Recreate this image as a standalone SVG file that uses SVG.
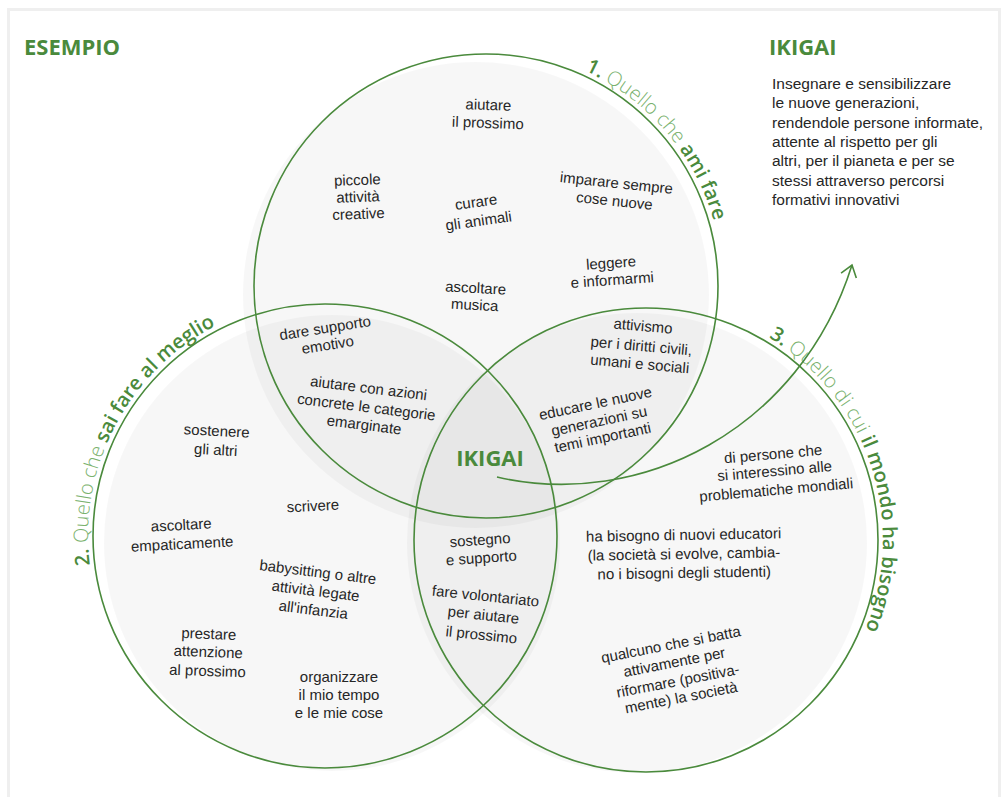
<svg xmlns="http://www.w3.org/2000/svg" width="1002" height="797" viewBox="0 0 1002 797">
<style>
.title{font-family:"Open Sans","Liberation Sans",sans-serif;font-weight:700;font-size:22px;fill:#4a8a3c}
.hw{font-family:"Liberation Sans Narrow","Liberation Sans",sans-serif;font-size:15px;fill:#262626;text-anchor:middle}
.hwl{font-family:"Liberation Sans Narrow","Liberation Sans",sans-serif;font-size:15.5px;fill:#262626}
.lbl{font-family:"Open Sans","Liberation Sans",sans-serif;font-size:20px}
.b{font-weight:600;fill:#4a8a3c}
.l{font-weight:300;fill:#7ab26e}
.ring{fill:none;stroke:#4a8a3c;stroke-width:1.6}
.shade{fill:#000;fill-opacity:0.032}
</style>
<defs>
<marker id="arrow" markerUnits="userSpaceOnUse" markerWidth="30" markerHeight="30" viewBox="-15 -15 30 30" refX="0" refY="0" orient="auto">
<path d="M -11 -8 L 0 0 L -11 8" fill="none" stroke="#4a8a3c" stroke-width="1.6"/>
</marker>
<path id="p1" d="M 486 49 A 237 237 0 0 1 723 286"/>
<path id="p2" d="M 119.8 654.5 A 237 237 0 0 1 325 299"/>
<path id="p3" d="M 646 303 A 237 237 0 0 1 646 777"/>
</defs>
<rect x="0" y="0" width="1002" height="797" fill="#fff"/>
<rect x="8.5" y="9.5" width="991" height="800" fill="none" stroke="#efefef" stroke-width="3"/>
<g id="shading">
<circle class="shade" cx="476" cy="295" r="233"/>
<circle class="shade" cx="332" cy="543" r="228"/>
<circle class="shade" cx="637" cy="543" r="230"/>
</g>
<g id="circle-ami-fare">
<circle class="ring" cx="486" cy="286" r="232"/>
<text class="lbl"><textPath href="#p1" startOffset="102"><tspan class="b">1.</tspan><tspan class="l"> Quello che </tspan><tspan class="b">ami fare</tspan></textPath></text>
</g>
<g id="circle-sai-fare">
<circle class="ring" cx="325" cy="536" r="232"/>
<text class="lbl"><textPath href="#p2" startOffset="95"><tspan class="b">2.</tspan><tspan class="l"> Quello che </tspan><tspan class="b">sai fare al meglio</tspan></textPath></text>
</g>
<g id="circle-mondo">
<circle class="ring" cx="646" cy="540" r="232"/>
<text class="lbl"><textPath href="#p3" startOffset="129"><tspan class="b">3.</tspan><tspan class="l"> Quello di cui </tspan><tspan class="b">il mondo ha bisogno</tspan></textPath></text>
</g>
<g id="titles">
<text class="title" x="24" y="55">ESEMPIO</text>
<text class="title" x="769" y="55">IKIGAI</text>
<text class="title" x="490" y="466" text-anchor="middle">IKIGAI</text>
</g>
<g id="ikigai-text">
<text class="hwl" x="772" y="89">
<tspan x="772" y="89">Insegnare e sensibilizzare</tspan>
<tspan x="772" y="108">le nuove generazioni,</tspan>
<tspan x="772" y="128">rendendole persone informate,</tspan>
<tspan x="772" y="147">attente al rispetto per gli</tspan>
<tspan x="772" y="166">altri, per il pianeta e per se</tspan>
<tspan x="772" y="186">stessi attraverso percorsi</tspan>
<tspan x="772" y="205">formativi innovativi</tspan>
</text>
</g>
<g id="connectors">
<path d="M 497 477 C 640 510 800 430 852 265" fill="none" stroke="#4a8a3c" stroke-width="1.6" marker-end="url(#arrow)"/>
</g>
<g id="items">
<text class="hw" transform="rotate(2 488 118)"><tspan x="488" y="110">aiutare</tspan><tspan x="488" y="128">il prossimo</tspan></text>
<text class="hw" transform="rotate(-2 358 200)"><tspan x="358" y="185">piccole</tspan><tspan x="358" y="202">attività</tspan><tspan x="358" y="219">creative</tspan></text>
<text class="hw" transform="rotate(-8 478 216)"><tspan x="478" y="207">curare</tspan><tspan x="478" y="226">gli animali</tspan></text>
<text class="hw" transform="rotate(6 615 196)"><tspan x="615" y="188">imparare sempre</tspan><tspan x="615" y="206">cose nuove</tspan></text>
<text class="hw" transform="rotate(-4 612 276)"><tspan x="612" y="268">leggere</tspan><tspan x="612" y="285">e informarmi</tspan></text>
<text class="hw" transform="rotate(3 475 300)"><tspan x="475" y="293">ascoltare</tspan><tspan x="475" y="310">musica</tspan></text>
<text class="hw" transform="rotate(-9 327 340)"><tspan x="327" y="333">dare supporto</tspan><tspan x="327" y="350">emotivo</tspan></text>
<text class="hw" transform="rotate(7 366 410)"><tspan x="366" y="393">aiutare con azioni</tspan><tspan x="366" y="412">concrete le categorie</tspan><tspan x="366" y="430">emarginate</tspan></text>
<text class="hw" transform="rotate(5 641 350)"><tspan x="641" y="331">attivismo</tspan><tspan x="641" y="351">per i diritti civili,</tspan><tspan x="641" y="369">umani e sociali</tspan></text>
<text class="hw" transform="rotate(-12 600 425)"><tspan x="600" y="408">educare le nuove</tspan><tspan x="600" y="426">generazioni su</tspan><tspan x="600" y="443">temi importanti</tspan></text>
<text class="hw" transform="rotate(3 216 445)"><tspan x="216" y="436">sostenere</tspan><tspan x="216" y="455">gli altri</tspan></text>
<text class="hw" transform="rotate(-3 313 507)"><tspan x="313" y="511">scrivere</tspan></text>
<text class="hw" transform="rotate(-3 182 540)"><tspan x="182" y="530">ascoltare</tspan><tspan x="182" y="549">empaticamente</tspan></text>
<text class="hw" transform="rotate(7 315 596)"><tspan x="315" y="577">babysitting o altre</tspan><tspan x="315" y="596">attività legate</tspan><tspan x="315" y="615">all'infanzia</tspan></text>
<text class="hw" transform="rotate(2 208 657)"><tspan x="208" y="639">prestare</tspan><tspan x="208" y="657">attenzione</tspan><tspan x="208" y="676">al prossimo</tspan></text>
<text class="hw"><tspan x="339" y="682">organizzare</tspan><tspan x="339" y="700">il mio tempo</tspan><tspan x="339" y="718">e le mie cose</tspan></text>
<text class="hw" transform="rotate(-4 481 554)"><tspan x="481" y="545">sostegno</tspan><tspan x="481" y="563">e supporto</tspan></text>
<text class="hw" transform="rotate(6 483 620)"><tspan x="483" y="601">fare volontariato</tspan><tspan x="483" y="620">per aiutare</tspan><tspan x="483" y="640">il prossimo</tspan></text>
<text class="hw" transform="rotate(-5 775 476)"><tspan x="775" y="459">di persone che</tspan><tspan x="775" y="476">si interessino alle</tspan><tspan x="775" y="495">problematiche mondiali</tspan></text>
<text class="hw" transform="rotate(-1 684 559)"><tspan x="684" y="540">ha bisogno di nuovi educatori</tspan><tspan x="684" y="559">(la società si evolve, cambia-</tspan><tspan x="684" y="578">no i bisogni degli studenti)</tspan></text>
<text class="hw" transform="rotate(-11 677 676)"><tspan x="677" y="649">qualcuno che si batta</tspan><tspan x="677" y="667">attivamente per</tspan><tspan x="677" y="686">riformare (positiva-</tspan><tspan x="677" y="703">mente) la società</tspan></text>
</g>
</svg>
